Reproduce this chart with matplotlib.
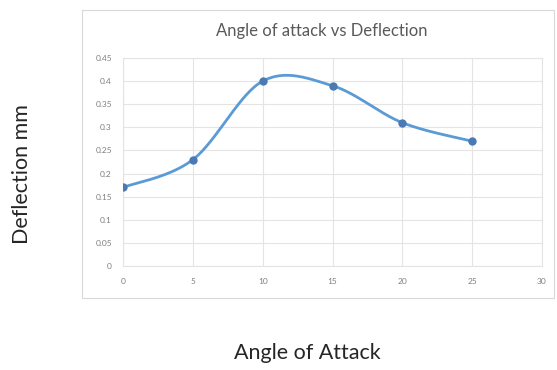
import numpy as np
import matplotlib
matplotlib.use("Agg")
import matplotlib.pyplot as plt
from matplotlib.patches import Rectangle

angle = [0, 5, 10, 15, 20, 25]
deflection = [0.17, 0.23, 0.40, 0.39, 0.31, 0.27]
x_ticks = [0, 5, 10, 15, 20, 25, 30]
y_ticks = [0, 0.05, 0.1, 0.15, 0.2, 0.25, 0.3, 0.35, 0.4, 0.45]
y_tick_labels = ["0", "0.05", "0.1", "0.15", "0.2", "0.25", "0.3", "0.35", "0.4", "0.45"]


def smooth_curve(xs, ys, steps=40):
    # cubic bezier segments with catmull-rom control points (spreadsheet-style smoothing)
    xs = np.asarray(xs, float)
    ys = np.asarray(ys, float)
    n = len(xs)
    out_x, out_y = [], []
    t = np.linspace(0, 1, steps)
    for i in range(n - 1):
        p0 = np.array([xs[max(i - 1, 0)], ys[max(i - 1, 0)]])
        p1 = np.array([xs[i], ys[i]])
        p2 = np.array([xs[i + 1], ys[i + 1]])
        p3 = np.array([xs[min(i + 2, n - 1)], ys[min(i + 2, n - 1)]])
        c1 = p1 + (p2 - p0) / 6
        c2 = p2 - (p3 - p1) / 6
        b = ((1 - t) ** 3)[:, None] * p1 + (3 * (1 - t) ** 2 * t)[:, None] * c1 \
            + (3 * (1 - t) * t ** 2)[:, None] * c2 + (t ** 3)[:, None] * p2
        out_x.extend(b[:, 0])
        out_y.extend(b[:, 1])
    return out_x, out_y


plt.rcParams["font.family"] = ["Lato", "DejaVu Sans"]

fig = plt.figure(figsize=(5.57, 3.70), dpi=100)
fig.patch.set_facecolor("white")

# chart frame
fig.patches.append(Rectangle((82 / 557, 1 - 298 / 370), (554 - 82) / 557, (298 - 10) / 370,
                             transform=fig.transFigure, fill=False,
                             edgecolor="#d9d9d9", linewidth=0.8))

ax = fig.add_axes([123 / 557, 1 - 266 / 370, (542 - 123) / 557, (266 - 58) / 370])
sx, sy = smooth_curve(angle, deflection)
ax.plot(sx, sy, color="#5b9bd5", linewidth=2.0, solid_capstyle="round", zorder=3)
ax.plot(angle, deflection, linestyle="none", marker="o", markersize=5,
        markerfacecolor="#4a79b5", markeredgecolor="#4a79b5", zorder=4)

ax.set_xlim(0, 30)
ax.set_ylim(0, 0.45)
ax.set_xticks(x_ticks)
ax.set_yticks(y_ticks)
ax.set_yticklabels(y_tick_labels)
ax.tick_params(length=0, labelsize=6, labelcolor="#7f7f7f")
ax.tick_params(axis="y", pad=8)
ax.tick_params(axis="x", pad=9)
ax.grid(True, color="#e4e4e4", linewidth=0.8)
for s in ax.spines.values():
    s.set_color("#e4e4e4")
    s.set_linewidth(0.8)
ax.set_axisbelow(True)

fig.text(322 / 557, 1 - 31 / 370, "Angle of attack vs Deflection", ha="center", va="center",
         fontsize=12, color="#595959")
fig.text(22 / 557, 1 - 174 / 370, "Deflection mm", ha="center", va="center",
         rotation=90, fontsize=15.5, color="#262626")
fig.text(307 / 557, 1 - 353 / 370, "Angle of Attack", ha="center", va="center",
         fontsize=15.5, color="#262626")

fig.savefig("out.png", dpi=100)
